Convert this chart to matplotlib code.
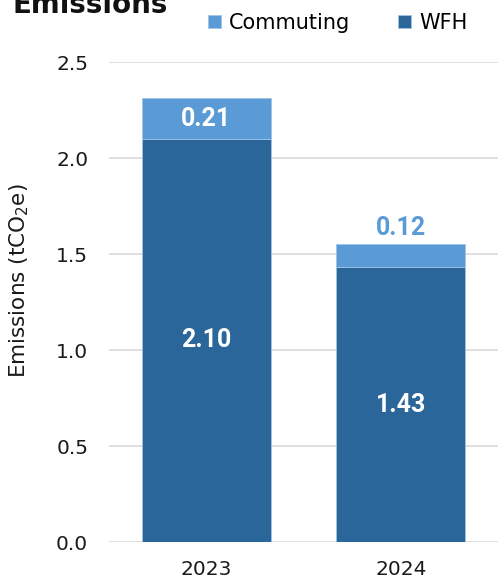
import matplotlib
matplotlib.use("Agg")
import matplotlib.pyplot as plt
import numpy as np

years = ["2023", "2024"]
wfh = [2.10, 1.43]
commuting = [0.21, 0.12]
series_names = ["Commuting", "WFH"]
yticks = [0.0, 0.5, 1.0, 1.5, 2.0, 2.5]

c_comm = "#5B9BD5"
c_wfh = "#2A6699"

plt.rcParams['font.family'] = ['DejaVu Sans']

fig = plt.figure(figsize=(4.98, 5.83), dpi=100)
ax = fig.add_axes([109/498, 41/583, 389/498, (542-62)/583])

x = np.arange(len(years))
w = 0.663
b1 = ax.bar(x, wfh, w, color=c_wfh, edgecolor="#9DC3E6", linewidth=0.6, label="WFH", zorder=3)
b2 = ax.bar(x, commuting, w, bottom=wfh, color=c_comm, edgecolor="#9DC3E6", linewidth=0.6, label="Commuting", zorder=3)

ax.set_xlim(-0.5, 1.5)
ax.set_ylim(0, 2.5)
ax.set_yticks(yticks)
ax.set_yticklabels([f"{t:.1f}" for t in yticks])
ax.set_xticks(x)
ax.set_xticklabels(years)
ax.tick_params(axis='both', length=0, labelsize=14.5, colors="#1a1a1a")
ax.tick_params(axis='x', pad=13)
ax.tick_params(axis='y', pad=15)
ax.grid(axis='y', color="#d9d9d9", linewidth=1.2, zorder=0)
for s in ["top", "right", "left", "bottom"]:
    ax.spines[s].set_visible(False)

ax.set_ylabel("Emissions (tCO$_2$e)", fontsize=15.5, color="#1a1a1a")
ax.yaxis.set_label_coords(-0.2, 0.545)

lab_font = dict(family=['Roboto', 'DejaVu Sans'], fontweight='bold', fontsize=18)
for i in range(len(years)):
    ax.text(x[i], wfh[i] / 2, f"{wfh[i]:.2f}", ha='center', va='center', color='white', zorder=5, **lab_font)
ax.text(x[0], wfh[0] + commuting[0] / 2, f"{commuting[0]:.2f}", ha='center', va='center', color='white', zorder=5, **lab_font)
ax.annotate(f"{commuting[1]:.2f}", (x[1], wfh[1] + commuting[1]), xytext=(0, 3), textcoords='offset points',
            ha='center', va='bottom', color=c_comm, zorder=5, **lab_font)

handles = [b2, b1]
fig.legend(handles, series_names, loc='center left', bbox_to_anchor=(200/498, 1 - 23/583), ncol=2,
           frameon=False, fontsize=15, handlelength=0.6, handleheight=0.6, handletextpad=0.4,
           columnspacing=2.3, borderaxespad=0)

fig.text(12/498, 1 - 13/583, "Emissions", fontsize=20, fontweight='bold', ha='left', va='baseline', color="#111111")

fig.savefig("out.png", dpi=100)
